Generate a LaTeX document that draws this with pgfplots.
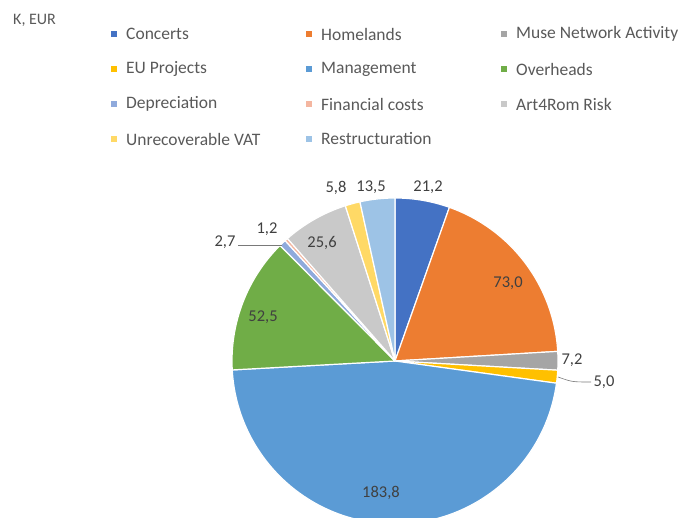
\documentclass[border=0pt]{standalone}
\usepackage{pgfplots}
\usepackage{pgfplotstable}
\pgfplotsset{compat=1.18}
\usepackage{fontspec}
\setmainfont{Carlito}

\definecolor{c0}{HTML}{4472C4}
\definecolor{c1}{HTML}{ED7D31}
\definecolor{c2}{HTML}{A5A5A5}
\definecolor{c3}{HTML}{FFC000}
\definecolor{c4}{HTML}{5B9BD5}
\definecolor{c5}{HTML}{70AD47}
\definecolor{c6}{HTML}{8FAADC}
\definecolor{c7}{HTML}{F4B6A0}
\definecolor{c8}{HTML}{C9C9C9}
\definecolor{c9}{HTML}{FFD966}
\definecolor{c10}{HTML}{9DC3E6}
\definecolor{legtext}{HTML}{595959}
\definecolor{labtext}{HTML}{404040}

\tikzset{lt/.style={font=\fontsize{17.5}{20}\selectfont, text=legtext, anchor=west, inner sep=0pt},
         lm/.style={minimum size=6.5pt, inner sep=0pt},
         dl/.style={font=\fontsize{16.5}{19}\selectfont, text=labtext, inner sep=0pt}}

\pgfplotstableread{
name value
Concerts 21.2
Homelands 73.0
Muse 7.2
EU 5.0
Management 183.8
Overheads 52.5
Depreciation 2.7
Financial 1.2
Art4Rom 25.6
VAT 5.8
Restructuration 13.5
}\pietable

\begin{document}
\begin{tikzpicture}
\begin{axis}[
  at={(0,0)}, anchor=south west,
  x=1pt, y=1pt,
  xmin=0, xmax=687, ymin=0, ymax=518,
  hide axis, clip=false,
]
\addplot[draw=none] coordinates {(0,0) (687,518)};
\coordinate (SW) at (axis cs:0,0);
\coordinate (NE) at (axis cs:687,518);
\pgfplotsextra{%
  \gdef\total{0}%
  \pgfplotsforeachungrouped \i in {0,...,10}{%
    \pgfplotstablegetelem{\i}{value}\of\pietable
    \pgfmathsetmacro\tmp{\total+\pgfplotsretval}%
    \global\let\total\tmp
  }%
  \gdef\cum{0}%
  \pgfplotsforeachungrouped \i in {0,...,10}{%
    \pgfplotstablegetelem{\i}{value}\of\pietable
    \pgfmathsetmacro\sa{90-\cum/\total*360}%
    \pgfmathsetmacro\newcum{\cum+\pgfplotsretval}%
    \pgfmathsetmacro\ea{90-\newcum/\total*360}%
    \fill[c\i, draw=white, line width=1.2pt, line join=round]
      (axis cs:395,157) -- ++(\sa:163pt) arc[start angle=\sa, end angle=\ea, radius=163pt] -- cycle;
    \global\let\cum\newcum
  }%
  % legend
  \foreach \col/\row/\cc/\txt in {
    0/0/c0/Concerts, 1/0/c1/Homelands, 2/0/c2/Muse Network Activity,
    0/1/c3/EU Projects, 1/1/c4/Management, 2/1/c5/Overheads,
    0/2/c6/Depreciation, 1/2/c7/Financial costs, 2/2/c8/Art4Rom Risk,
    0/3/c9/Unrecoverable VAT, 1/3/c10/Restructuration}{
    \pgfmathsetmacro\xx{114+195*\col}
    \pgfmathsetmacro\xt{126+195*\col}
    \pgfmathsetmacro\yy{484-35*\row}
    \node[lm, fill=\cc] at (axis cs:\xx,\yy) {};
    \node[lt] at (axis cs:\xt,\yy) {\txt};
  }
}
% data labels
\node[dl] at (axis cs:428,331) {21,2};
\node[dl] at (axis cs:508,235) {73,0};
\node[dl] at (axis cs:572,158) {7,2};
\node[dl] at (axis cs:604,136) {5,0};
\node[dl] at (axis cs:381,25) {183,8};
\node[dl] at (axis cs:263,201) {52,5};
\node[dl] at (axis cs:225,276) {2,7};
\node[dl] at (axis cs:267,289) {1,2};
\node[dl] at (axis cs:322,275) {25,6};
\node[dl] at (axis cs:336,330) {5,8};
\node[dl] at (axis cs:371,331) {13,5};
\draw[labtext!70, line width=0.6pt] (axis cs:238,273) -- (axis cs:282,273);
\draw[labtext!70, line width=0.6pt] (axis cs:558,141) .. controls (axis cs:572,136) .. (axis cs:591,136);
% title
\node[font=\fontsize{16}{19}\selectfont, text=legtext, anchor=west, inner sep=0pt] at (axis cs:13,498) {K, EUR};
\end{axis}
\pgfresetboundingbox
\path[use as bounding box] (SW) rectangle (NE);
\end{tikzpicture}
\end{document}
